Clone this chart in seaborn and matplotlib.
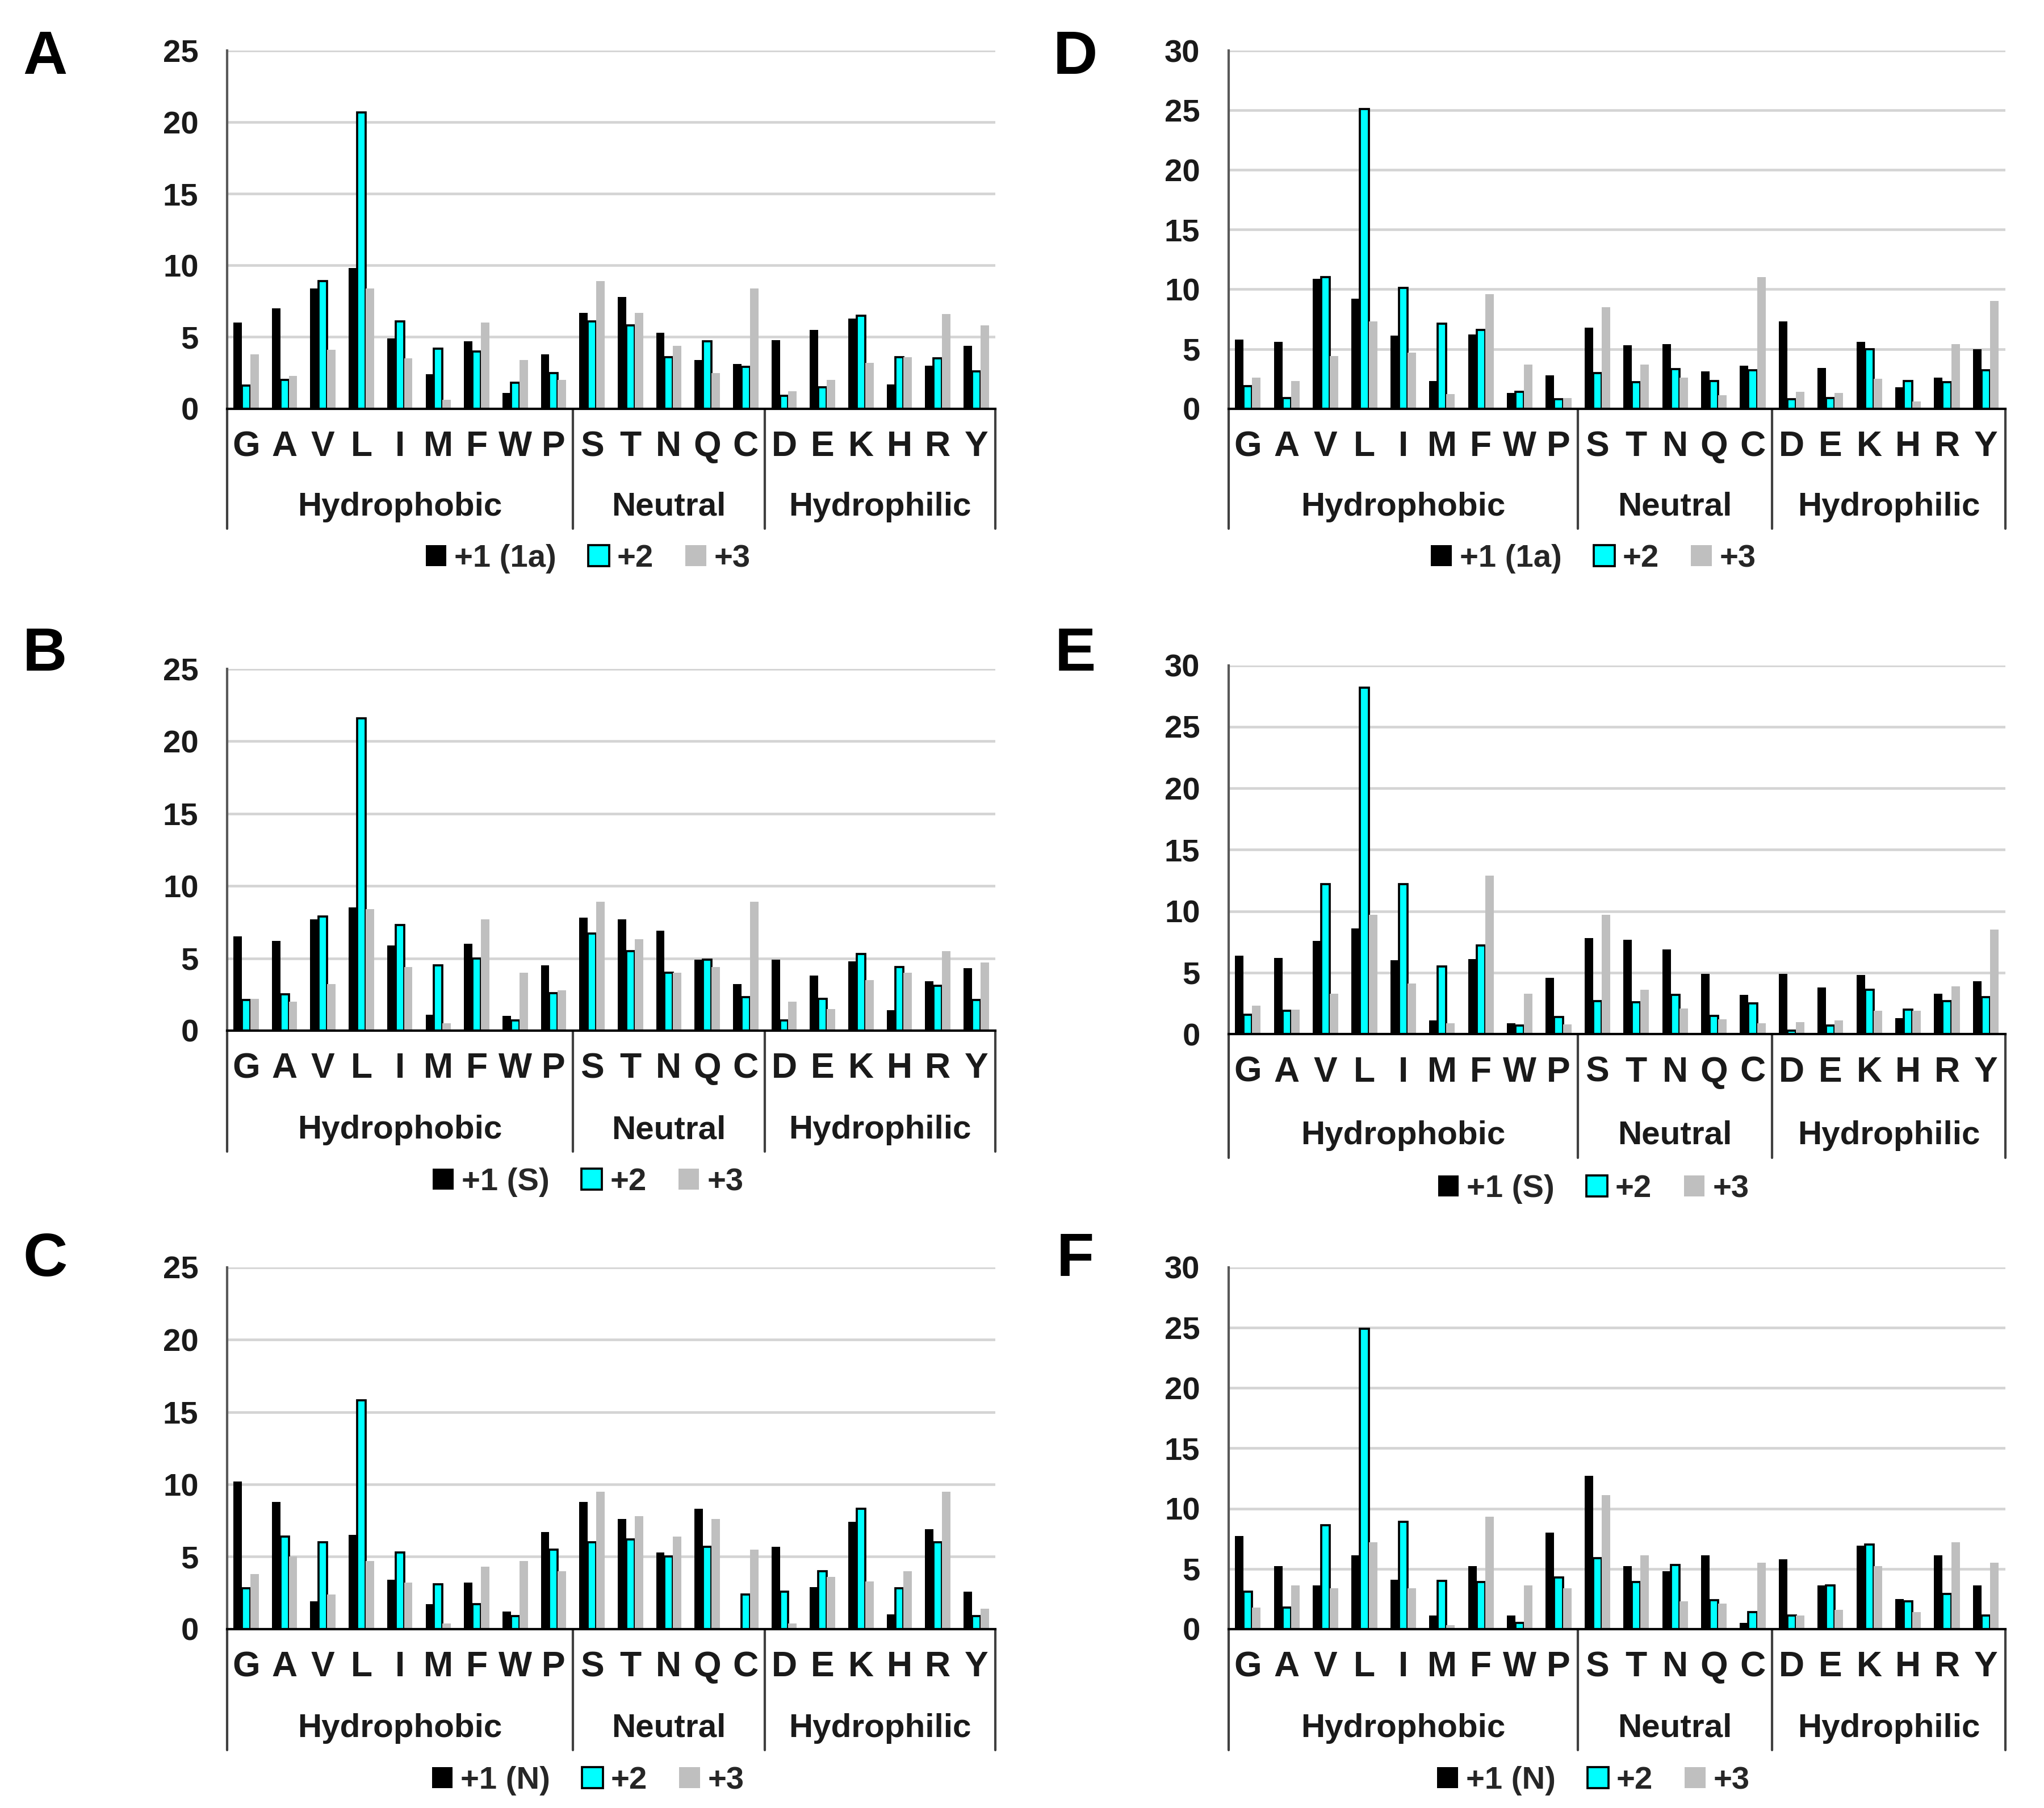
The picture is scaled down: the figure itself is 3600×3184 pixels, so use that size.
import numpy as np
import pandas as pd
import matplotlib
matplotlib.use("Agg")
import matplotlib.pyplot as plt
import matplotlib.transforms as mtransforms
from matplotlib.patches import Patch
import seaborn as sns

residues = list("GAVLIMFWPSTNQCDEKHRY")
groups = [("Hydrophobic", 0, 8), ("Neutral", 9, 13), ("Hydrophilic", 14, 19)]

# panel A (+1 (1a), +2, +3)
a_p1 = [6.0, 7.0, 8.4, 9.8, 4.9, 2.4, 4.7, 1.1, 3.8, 6.7, 7.8, 5.3, 3.4, 3.1, 4.8, 5.5, 6.3, 1.7, 3.0, 4.4]
a_p2 = [1.6, 2.0, 8.9, 20.7, 6.1, 4.2, 4.0, 1.8, 2.5, 6.1, 5.8, 3.6, 4.7, 2.9, 0.9, 1.5, 6.5, 3.6, 3.5, 2.6]
a_p3 = [3.8, 2.3, 4.1, 8.4, 3.5, 0.6, 6.0, 3.4, 2.0, 8.9, 6.7, 4.4, 2.5, 8.4, 1.2, 2.0, 3.2, 3.6, 6.6, 5.8]

# panel B (+1 (S), +2, +3)
b_p1 = [6.5, 6.2, 7.7, 8.5, 5.9, 1.1, 6.0, 1.0, 4.5, 7.8, 7.7, 6.9, 4.9, 3.2, 4.9, 3.8, 4.8, 1.4, 3.4, 4.3]
b_p2 = [2.1, 2.5, 7.9, 21.6, 7.3, 4.5, 5.0, 0.7, 2.6, 6.7, 5.5, 4.0, 4.9, 2.3, 0.7, 2.2, 5.3, 4.4, 3.1, 2.1]
b_p3 = [2.2, 2.0, 3.2, 8.4, 4.4, 0.5, 7.7, 4.0, 2.8, 8.9, 6.3, 4.0, 4.4, 8.9, 2.0, 1.5, 3.5, 4.0, 5.5, 4.7]

# panel C (+1 (N), +2, +3)
c_p1 = [10.2, 8.8, 1.9, 6.5, 3.4, 1.7, 3.2, 1.2, 6.7, 8.8, 7.6, 5.3, 8.3, 0.0, 5.7, 2.9, 7.4, 1.0, 6.9, 2.6]
c_p2 = [2.8, 6.4, 6.0, 15.8, 5.3, 3.1, 1.7, 0.9, 5.5, 6.0, 6.2, 5.0, 5.7, 2.4, 2.6, 4.0, 8.3, 2.8, 6.0, 0.9]
c_p3 = [3.8, 5.0, 2.4, 4.7, 3.2, 0.4, 4.3, 4.7, 4.0, 9.5, 7.8, 6.4, 7.6, 5.5, 0.4, 3.6, 3.3, 4.0, 9.5, 1.4]

# panel D (+1 (1a), +2, +3)
d_p1 = [5.8, 5.6, 10.9, 9.2, 6.1, 2.3, 6.2, 1.3, 2.8, 6.8, 5.3, 5.4, 3.1, 3.6, 7.3, 3.4, 5.6, 1.8, 2.6, 5.0]
d_p2 = [1.9, 0.9, 11.0, 25.1, 10.1, 7.1, 6.6, 1.4, 0.8, 3.0, 2.2, 3.3, 2.3, 3.2, 0.8, 0.9, 5.0, 2.3, 2.2, 3.2]
d_p3 = [2.6, 2.3, 4.4, 7.3, 4.7, 1.2, 9.6, 3.7, 0.9, 8.5, 3.7, 2.6, 1.1, 11.0, 1.4, 1.3, 2.5, 0.6, 5.4, 9.0]

# panel E (+1 (S), +2, +3)
e_p1 = [6.4, 6.2, 7.6, 8.6, 6.0, 1.1, 6.1, 0.9, 4.6, 7.8, 7.7, 6.9, 4.9, 3.2, 4.9, 3.8, 4.8, 1.3, 3.3, 4.3]
e_p2 = [1.6, 1.9, 12.2, 28.2, 12.2, 5.5, 7.2, 0.7, 1.4, 2.7, 2.6, 3.2, 1.5, 2.5, 0.3, 0.7, 3.6, 2.0, 2.7, 3.0]
e_p3 = [2.3, 2.0, 3.3, 9.7, 4.1, 0.9, 12.9, 3.3, 0.8, 9.7, 3.6, 2.1, 1.2, 0.9, 1.0, 1.1, 1.9, 1.9, 3.9, 8.5]

# panel F (+1 (N), +2, +3)
f_p1 = [7.7, 5.2, 3.6, 6.1, 4.1, 1.1, 5.2, 1.1, 8.0, 12.7, 5.2, 4.8, 6.1, 0.5, 5.8, 3.6, 6.9, 2.5, 6.1, 3.6]
f_p2 = [3.1, 1.8, 8.6, 24.9, 8.9, 4.0, 3.9, 0.5, 4.3, 5.9, 3.9, 5.3, 2.4, 1.4, 1.1, 3.6, 7.0, 2.3, 2.9, 1.1]
f_p3 = [1.8, 3.6, 3.4, 7.2, 3.4, 0.3, 9.3, 3.6, 3.4, 11.1, 6.1, 2.3, 2.1, 5.5, 1.1, 1.6, 5.2, 1.4, 7.2, 5.5]

sns.set_style("white")
plt.rcParams["font.family"] = ["Liberation Sans", "DejaVu Sans"]
plt.rcParams["font.weight"] = "bold"

colors = ["black", "#00ffff", "#bfbfbf"]
txt = "#1a1a1a"


def draw_panel(ax, p1, p2, p3, first_label, ymax):
    labels = [first_label, "+2", "+3"]
    df = pd.DataFrame({
        "res": residues * 3,
        "val": p1 + p2 + p3,
        "series": [labels[0]] * 20 + [labels[1]] * 20 + [labels[2]] * 20,
    })
    sns.barplot(data=df, x="res", y="val", hue="series", order=residues,
                hue_order=labels, palette=colors, width=0.66, saturation=1,
                errorbar=None, legend=False, ax=ax)
    for i, cont in enumerate(ax.containers):
        for bar in cont:
            if i == 1:
                bar.set_edgecolor("black")
                bar.set_linewidth(0.9)
            else:
                bar.set_edgecolor("none")
                bar.set_linewidth(0)

    ax.set_xlim(-0.5, 19.5)
    ax.set_ylim(0, ymax)
    ax.set_yticks(np.arange(0, ymax + 1, 5))
    ax.yaxis.grid(True, color="#d4d4d4", linewidth=1.1)
    ax.set_axisbelow(True)
    ax.set_xlabel("")
    ax.set_ylabel("")
    for s in ["top", "right"]:
        ax.spines[s].set_visible(False)
    ax.spines["left"].set_color("#595959")
    ax.spines["left"].set_linewidth(1.0)
    ax.spines["bottom"].set_color("black")
    ax.spines["bottom"].set_linewidth(1.0)

    ax.tick_params(axis="both", length=0)
    ax.tick_params(axis="y", pad=12, labelsize=13.5, labelcolor=txt)
    ax.tick_params(axis="x", pad=9, labelsize=15, labelcolor=txt)
    for lab in ax.get_xticklabels() + ax.get_yticklabels():
        lab.set_fontweight("bold")

    trans = mtransforms.blended_transform_factory(ax.transData, ax.transAxes)
    for xs in [-0.5, 8.5, 13.5, 19.5]:
        ax.plot([xs, xs], [0, -0.335], transform=trans, color="#404040",
                linewidth=1.0, clip_on=False)
    for name, i0, i1 in groups:
        ax.text((i0 + i1) / 2, -0.275, name, transform=trans, ha="center",
                va="center", fontsize=14, fontweight="bold", color=txt)

    handles = [Patch(facecolor=colors[0], edgecolor="none"),
               Patch(facecolor=colors[1], edgecolor="black", linewidth=0.9),
               Patch(facecolor=colors[2], edgecolor="none")]
    ax.legend(handles, labels, loc="center", bbox_to_anchor=(0.47, -0.42),
              ncol=3, frameon=False, handlelength=0.65,
              handleheight=0.65, handletextpad=0.25, columnspacing=1.0,
              prop={"weight": "bold", "size": 13.5})


fig = plt.figure(figsize=(12, 3184 / 300), dpi=300)

panels = [
    ("A", [0.111, 0.774, 0.376, 0.198], a_p1, a_p2, a_p3, "+1 (1a)", 25, (0.022, 0.968)),
    ("B", [0.111, 0.430, 0.376, 0.200], b_p1, b_p2, b_p3, "+1 (S)", 25, (0.022, 0.638)),
    ("C", [0.111, 0.099, 0.376, 0.200], c_p1, c_p2, c_p3, "+1 (N)", 25, (0.022, 0.303)),
    ("D", [0.601, 0.774, 0.380, 0.198], d_p1, d_p2, d_p3, "+1 (1a)", 30, (0.526, 0.968)),
    ("E", [0.601, 0.428, 0.380, 0.204], e_p1, e_p2, e_p3, "+1 (S)", 30, (0.526, 0.638)),
    ("F", [0.601, 0.099, 0.380, 0.200], f_p1, f_p2, f_p3, "+1 (N)", 30, (0.526, 0.303)),
]

for letter, rect, p1, p2, p3, lab, ymax, lpos in panels:
    ax = fig.add_axes(rect)
    draw_panel(ax, p1, p2, p3, lab, ymax)
    fig.text(lpos[0], lpos[1], letter, fontsize=26, fontweight="bold",
             ha="center", va="center", color="black")

fig.savefig("out.png", dpi=300, facecolor="white")
